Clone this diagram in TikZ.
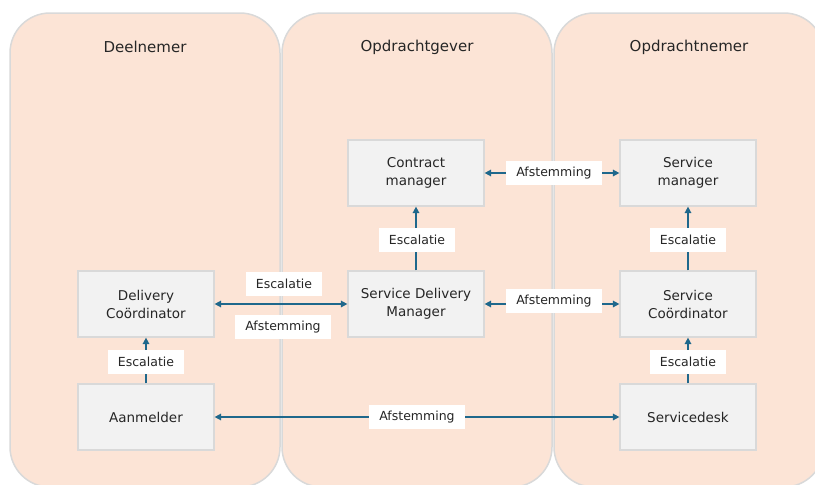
\documentclass[tikz,border=0pt]{standalone}
\usepackage{fontspec}
\setmainfont{DejaVu Sans}
\usetikzlibrary{arrows.meta}
\definecolor{lanefill}{RGB}{252,228,214}
\definecolor{laneline}{RGB}{217,217,217}
\definecolor{boxfill}{RGB}{242,242,242}
\definecolor{linkblue}{RGB}{31,104,140}
\tikzset{lane/.style={rectangle, rounded corners=40pt, draw=laneline, line width=1.5pt, fill=lanefill, minimum width=270pt, minimum height=474pt}, lanetitle/.style={font=\fontsize{15}{18}\selectfont, text=black!85}, role/.style={rectangle, draw=laneline, line width=1.2pt, fill=boxfill, align=center, minimum width=136pt, minimum height=66pt, font=\fontsize{13.5}{18}\selectfont, text=black!85}, tag/.style={rectangle, fill=white, inner xsep=10pt, minimum height=24pt, font=\fontsize{12.5}{15}\selectfont, text=black!85}, link/.style={-{Triangle[length=6.5pt,width=6.5pt]}, line width=1.5pt, draw=linkblue}, twoway/.style={{Triangle[length=6.5pt,width=6.5pt]}-{Triangle[length=6.5pt,width=6.5pt]}, line width=1.5pt, draw=linkblue}}

\begin{document}
\begin{tikzpicture}[x=1pt, y=-1pt]
\useasboundingbox (0,0) rectangle (815,485);
\begin{scope}
\clip (0,0) rectangle (815,485);
\node[lane] (deelnemer) at (145,250) {};
\node[lane] (opdrachtgever) at (417,250) {};
\node[lane] (opdrachtnemer) at (689,250) {};
\end{scope}
\node[lanetitle] (tdeel) at (145,47) {Deelnemer};
\node[lanetitle] (tgever) at (417,47) {Opdrachtgever};
\node[lanetitle] (tnemer) at (689,47) {Opdrachtnemer};
% rollen
\node[role] (contract) at (416,173) {Contract\\manager};
\node[role] (servman) at (688,173) {Service\\manager};
\node[role] (delcoord) at (146,304) {Delivery\\Coördinator};
\node[role] (sdm) at (416,304) {Service Delivery\\Manager};
\node[role] (servcoord) at (688,304) {Service\\Coördinator};
\node[role] (aanmelder) at (146,417) {Aanmelder};
\node[role] (servicedesk) at (688,417) {Servicedesk};
% verbindingen
\draw[twoway] (contract) -- (servman);
\draw[link] (sdm) -- (contract);
\draw[link] (servcoord) -- (servman);
\draw[twoway] (delcoord) -- (sdm);
\draw[twoway] (sdm) -- (servcoord);
\draw[link] (aanmelder) -- (delcoord);
\draw[link] (servicedesk) -- (servcoord);
\draw[twoway] (aanmelder) -- (servicedesk);
% labels
\node[tag] (afst1) at (554,173) {Afstemming};
\node[tag] (esc1) at (417,240) {Escalatie};
\node[tag] (esc2) at (688,240) {Escalatie};
\node[tag] (esc3) at (284,284) {Escalatie};
\node[tag] (afst2) at (283,327) {Afstemming};
\node[tag] (afst3) at (554,301) {Afstemming};
\node[tag] (esc4) at (146,362) {Escalatie};
\node[tag] (esc5) at (688,362) {Escalatie};
\node[tag] (afst4) at (417,417) {Afstemming};
\end{tikzpicture}
\end{document}
